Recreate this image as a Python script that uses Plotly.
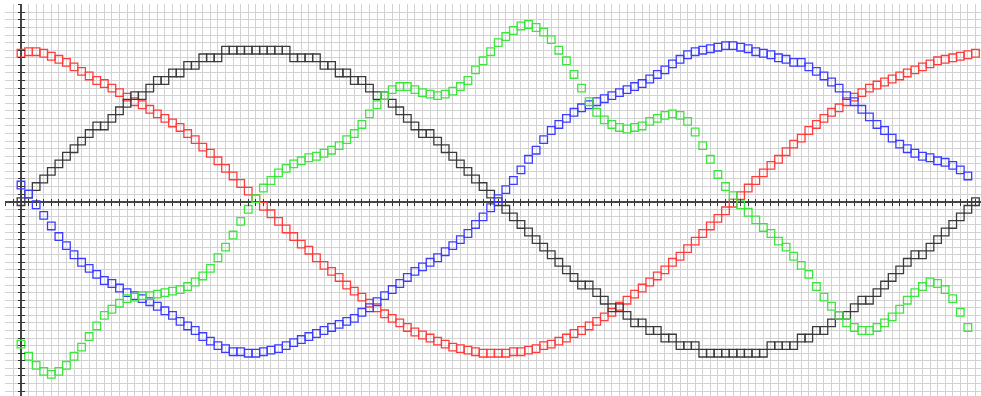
import numpy as np
import plotly.graph_objects as go

# sample positions (x in radians-like units, step 0.05)
X_LONG = np.round(np.arange(127) * 0.05, 2)
X_SHORT = X_LONG[:126]

BLACK = [
    0.00, 0.05, 0.10, 0.15, 0.20, 0.25, 0.30, 0.35, 0.40, 0.45, 0.50, 0.50, 0.55, 0.60, 0.65, 0.70,
    0.70, 0.75, 0.80, 0.80, 0.85, 0.85, 0.90, 0.90, 0.95, 0.95, 0.95, 1.00, 1.00, 1.00, 1.00, 1.00,
    1.00, 1.00, 1.00, 1.00, 0.95, 0.95, 0.95, 0.95, 0.90, 0.90, 0.85, 0.85, 0.80, 0.80, 0.75, 0.70,
    0.70, 0.65, 0.60, 0.55, 0.50, 0.45, 0.45, 0.40, 0.35, 0.30, 0.25, 0.20, 0.15, 0.10, 0.05, 0.00,
    -0.05, -0.10, -0.15, -0.20, -0.25, -0.30, -0.35, -0.40, -0.45, -0.50, -0.55, -0.55, -0.60, -0.65,
    -0.70, -0.70, -0.75, -0.80, -0.80, -0.85, -0.85, -0.90, -0.90, -0.95, -0.95, -0.95, -1.00, -1.00,
    -1.00, -1.00, -1.00, -1.00, -1.00, -1.00, -1.00, -0.95, -0.95, -0.95, -0.95, -0.90, -0.90, -0.85,
    -0.85, -0.80, -0.75, -0.75, -0.70, -0.65, -0.65, -0.60, -0.55, -0.50, -0.45, -0.40, -0.35, -0.35,
    -0.30, -0.25, -0.20, -0.15, -0.10, -0.05, 0.00,
]

RED = [
    0.98, 0.99, 0.99, 0.98, 0.96, 0.94, 0.92, 0.89, 0.86, 0.83, 0.80, 0.78, 0.75, 0.72, 0.69, 0.66,
    0.64, 0.61, 0.58, 0.55, 0.52, 0.49, 0.45, 0.41, 0.36, 0.32, 0.27, 0.22, 0.17, 0.12, 0.07, 0.02,
    -0.03, -0.08, -0.13, -0.18, -0.23, -0.28, -0.32, -0.37, -0.42, -0.46, -0.50, -0.55, -0.59, -0.63,
    -0.67, -0.70, -0.74, -0.77, -0.80, -0.83, -0.86, -0.88, -0.90, -0.92, -0.94, -0.96, -0.97, -0.98,
    -0.99, -1.00, -1.00, -1.00, -1.00, -0.99, -0.99, -0.98, -0.97, -0.95, -0.94, -0.92, -0.90, -0.87,
    -0.85, -0.82, -0.79, -0.76, -0.73, -0.69, -0.65, -0.61, -0.57, -0.53, -0.49, -0.45, -0.40, -0.36,
    -0.31, -0.26, -0.21, -0.16, -0.11, -0.06, -0.01, 0.04, 0.09, 0.14, 0.19, 0.24, 0.28, 0.33, 0.38,
    0.42, 0.47, 0.51, 0.55, 0.59, 0.62, 0.66, 0.69, 0.72, 0.75, 0.77, 0.79, 0.81, 0.83, 0.85, 0.87,
    0.89, 0.91, 0.93, 0.94, 0.95, 0.96, 0.97, 0.98,
]

BLUE = [
    0.11, 0.05, -0.02, -0.09, -0.16, -0.23, -0.29, -0.35, -0.40, -0.44, -0.48, -0.52, -0.54, -0.57,
    -0.60, -0.62, -0.64, -0.66, -0.69, -0.72, -0.75, -0.79, -0.82, -0.85, -0.89, -0.92, -0.95, -0.97,
    -0.99, -0.99, -1.00, -1.00, -0.99, -0.98, -0.97, -0.95, -0.93, -0.91, -0.89, -0.87, -0.85, -0.83,
    -0.81, -0.79, -0.77, -0.73, -0.70, -0.66, -0.62, -0.58, -0.54, -0.50, -0.46, -0.43, -0.40, -0.37,
    -0.33, -0.29, -0.25, -0.21, -0.15, -0.10, -0.04, 0.02, 0.08, 0.14, 0.21, 0.28, 0.34, 0.41, 0.47,
    0.51, 0.55, 0.59, 0.62, 0.64, 0.66, 0.68, 0.70, 0.72, 0.74, 0.76, 0.78, 0.81, 0.84, 0.87, 0.91,
    0.94, 0.97, 0.99, 1.00, 1.01, 1.02, 1.03, 1.03, 1.02, 1.01, 0.99, 0.98, 0.97, 0.95, 0.94, 0.92,
    0.92, 0.89, 0.86, 0.83, 0.79, 0.75, 0.70, 0.66, 0.61, 0.56, 0.51, 0.47, 0.42, 0.38, 0.35, 0.32,
    0.30, 0.29, 0.27, 0.26, 0.24, 0.21, 0.17,
]

GREEN = [
    -0.94, -1.02, -1.08, -1.12, -1.14, -1.12, -1.08, -1.02, -0.96, -0.89, -0.82, -0.75, -0.71, -0.67,
    -0.64, -0.63, -0.62, -0.62, -0.61, -0.60, -0.59, -0.58, -0.56, -0.53, -0.49, -0.44, -0.37, -0.30,
    -0.22, -0.13, -0.05, 0.02, 0.09, 0.14, 0.19, 0.22, 0.25, 0.27, 0.29, 0.30, 0.32, 0.34, 0.37, 0.41,
    0.45, 0.51, 0.58, 0.64, 0.70, 0.74, 0.76, 0.76, 0.74, 0.72, 0.71, 0.70, 0.71, 0.73, 0.76, 0.80,
    0.87, 0.93, 0.99, 1.05, 1.09, 1.13, 1.16, 1.17, 1.15, 1.12, 1.07, 1.00, 0.93, 0.84, 0.75, 0.66,
    0.59, 0.54, 0.51, 0.49, 0.48, 0.49, 0.50, 0.53, 0.55, 0.57, 0.58, 0.57, 0.53, 0.46, 0.37, 0.28,
    0.18, 0.10, 0.04, -0.02, -0.07, -0.12, -0.17, -0.21, -0.26, -0.30, -0.36, -0.42, -0.48, -0.56,
    -0.63, -0.69, -0.75, -0.80, -0.83, -0.85, -0.85, -0.83, -0.80, -0.76, -0.71, -0.65, -0.60, -0.56,
    -0.53, -0.54, -0.58, -0.64, -0.73, -0.83,
]

X_RANGE = [-0.1056, 6.3366]
Y_RANGE = [-1.2825, 1.305]

fig = go.Figure()


def add_series(xs, ys, color):
    fig.add_trace(go.Scatter(
        x=xs, y=ys, mode="markers",
        marker=dict(symbol="square-open", size=7.6, color=color, line=dict(width=1.3, color=color)),
        showlegend=False, hoverinfo="skip",
    ))


add_series(X_LONG, RED, "#ff3c3c")
add_series(X_LONG, BLACK, "#3a3a3a")
add_series(X_SHORT, BLUE, "#3c3cff")
add_series(X_SHORT, GREEN, "#3ce63c")

# empty trace so the overlay axes (for the inner half of the ticks) get drawn
fig.add_trace(go.Scatter(x=[], y=[], xaxis="x2", yaxis="y2", showlegend=False))

x_pos = (0 - X_RANGE[0]) / (X_RANGE[1] - X_RANGE[0])
y_pos = (0 - Y_RANGE[0]) / (Y_RANGE[1] - Y_RANGE[0])

tick_style = dict(tick0=0, dtick=0.05, ticklen=3, tickwidth=1, tickcolor="#333333", showticklabels=False)

fig.update_layout(
    width=981, height=396,
    margin=dict(l=5, r=0, t=4, b=0),
    plot_bgcolor="white", paper_bgcolor="white",
    xaxis=dict(range=X_RANGE, showgrid=True, gridcolor="#d2d2d2", gridwidth=1,
               zeroline=True, zerolinecolor="#444444", zerolinewidth=2,
               anchor="free", position=y_pos, ticks="outside",
               showline=False, **tick_style),
    yaxis=dict(range=Y_RANGE, showgrid=True, gridcolor="#d2d2d2", gridwidth=1,
               zeroline=True, zerolinecolor="#444444", zerolinewidth=2,
               anchor="free", position=x_pos, ticks="outside",
               showline=False, **tick_style),
    xaxis2=dict(range=X_RANGE, overlaying="x", anchor="free", position=y_pos,
                ticks="inside", showgrid=False, zeroline=False, showline=False, **tick_style),
    yaxis2=dict(range=Y_RANGE, overlaying="y", anchor="free", position=x_pos,
                ticks="inside", showgrid=False, zeroline=False, showline=False, **tick_style),
)

fig.write_html("out.html", config={"displayModeBar": False},
               post_script="document.body.style.margin='0';")
